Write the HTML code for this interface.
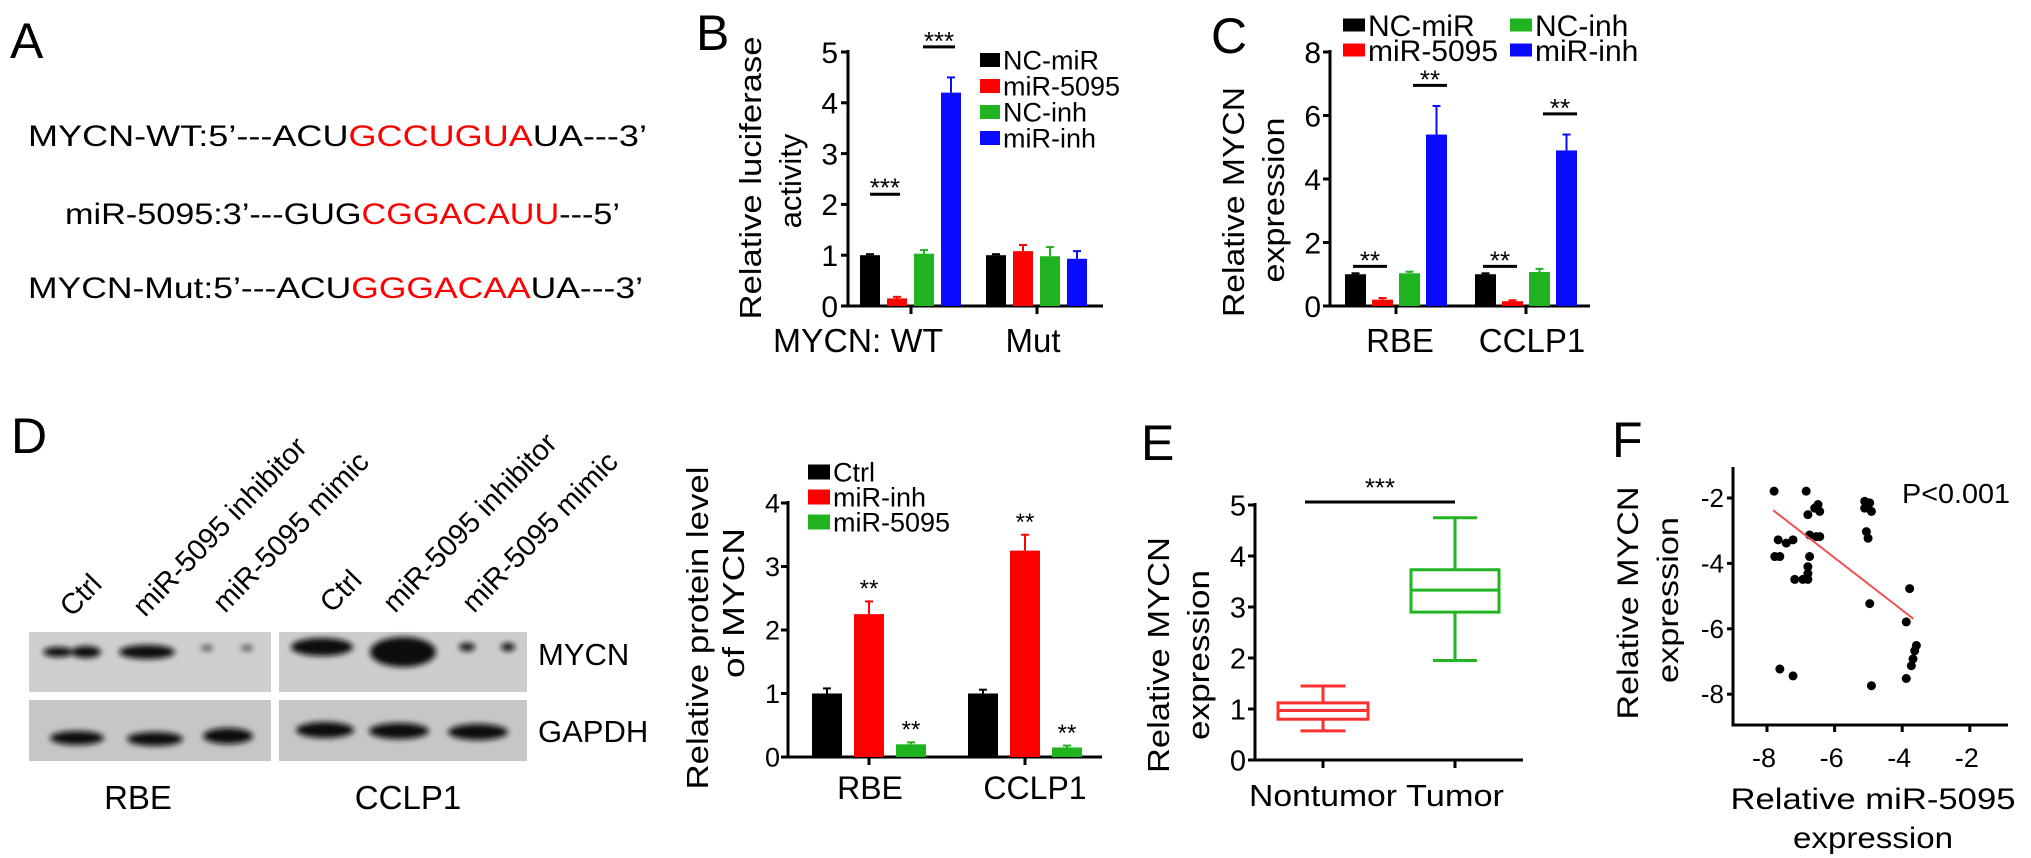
<!DOCTYPE html>
<html><head><meta charset="utf-8"><style>
html,body{margin:0;padding:0;background:#fff;}
svg{display:block;font-family:"Liberation Sans",Arial,sans-serif;}
</style></head><body>
<svg id="fig" width="2031" height="858" viewBox="0 0 2031 858">
<defs><filter id="blur" x="-20%" y="-50%" width="140%" height="200%"><feGaussianBlur stdDeviation="3"/></filter></defs>
<text x="10" y="58" font-size="50">A</text>
<text x="696" y="50" font-size="50">B</text>
<text x="1211" y="53" font-size="50">C</text>
<text x="11" y="453" font-size="50">D</text>
<text x="1141" y="460" font-size="50">E</text>
<text x="1612" y="457" font-size="50">F</text>

<text x="28" y="146" font-size="30" textLength="619" lengthAdjust="spacingAndGlyphs">MYCN-WT:5’---ACU<tspan fill="#ff0000">GCCUGUA</tspan>UA---3’</text>
<text x="65" y="224" font-size="30" textLength="555" lengthAdjust="spacingAndGlyphs">miR-5095:3’---GUG<tspan fill="#ff0000">CGGACAUU</tspan>---5’</text>
<text x="28" y="298" font-size="30" textLength="615" lengthAdjust="spacingAndGlyphs">MYCN-Mut:5’---ACU<tspan fill="#ff0000">GGGACAA</tspan>UA---3’</text>

<text transform="translate(761,178) rotate(-90)" text-anchor="middle" font-size="31" textLength="283" lengthAdjust="spacingAndGlyphs">Relative luciferase</text>
<text transform="translate(801,181) rotate(-90)" text-anchor="middle" font-size="31">activity</text>
<text x="858" y="352" text-anchor="middle" font-size="33" textLength="170" lengthAdjust="spacingAndGlyphs">MYCN: WT</text>
<text x="1033" y="352" text-anchor="middle" font-size="33">Mut</text>

<text transform="translate(1244,202) rotate(-90)" text-anchor="middle" font-size="31" textLength="230" lengthAdjust="spacingAndGlyphs">Relative MYCN</text>
<text transform="translate(1284,200) rotate(-90)" text-anchor="middle" font-size="31" textLength="165" lengthAdjust="spacingAndGlyphs">expression</text>
<text x="1400" y="352" text-anchor="middle" font-size="33">RBE</text>
<text x="1532" y="352" text-anchor="middle" font-size="33">CCLP1</text>

<text transform="translate(708,628) rotate(-90)" text-anchor="middle" font-size="31" textLength="323" lengthAdjust="spacingAndGlyphs">Relative protein level</text>
<text transform="translate(744,603) rotate(-90)" text-anchor="middle" font-size="31" textLength="150" lengthAdjust="spacingAndGlyphs">of  MYCN</text>
<text x="870" y="799" text-anchor="middle" font-size="32">RBE</text>
<text x="1035" y="799" text-anchor="middle" font-size="32">CCLP1</text>

<text transform="translate(1169,655) rotate(-90)" text-anchor="middle" font-size="31" textLength="236" lengthAdjust="spacingAndGlyphs">Relative MYCN</text>
<text transform="translate(1209,655) rotate(-90)" text-anchor="middle" font-size="31" textLength="170" lengthAdjust="spacingAndGlyphs">expression</text>
<text x="1323" y="806" text-anchor="middle" font-size="31" textLength="148" lengthAdjust="spacingAndGlyphs">Nontumor</text>
<text x="1455" y="806" text-anchor="middle" font-size="31" textLength="98" lengthAdjust="spacingAndGlyphs">Tumor</text>

<text transform="translate(1638,603) rotate(-90)" text-anchor="middle" font-size="30" textLength="233" lengthAdjust="spacingAndGlyphs">Relative MYCN</text>
<text transform="translate(1678,600) rotate(-90)" text-anchor="middle" font-size="30" textLength="166" lengthAdjust="spacingAndGlyphs">expression</text>
<text x="1873" y="809" text-anchor="middle" font-size="30" textLength="285" lengthAdjust="spacingAndGlyphs">Relative miR-5095</text>
<text x="1873" y="848" text-anchor="middle" font-size="30" textLength="160" lengthAdjust="spacingAndGlyphs">expression</text>
<text x="1902" y="503" font-size="28" textLength="108" lengthAdjust="spacingAndGlyphs">P&lt;0.001</text>

<g>
<rect x="29" y="632" width="242" height="60" fill="#cfcfcf"/>
<rect x="29" y="700" width="242" height="61" fill="#c6c6c6"/>
<rect x="279" y="632" width="248" height="60" fill="#cdcdcd"/>
<rect x="279" y="700" width="248" height="61" fill="#c6c6c6"/>
<g filter="url(#blur)" fill="#111">
<ellipse cx="58" cy="652" rx="15" ry="5"/><ellipse cx="86" cy="652" rx="15" ry="6"/>
<ellipse cx="147" cy="652" rx="28" ry="7"/>
<ellipse cx="207" cy="648" rx="6" ry="3" fill="#555"/><ellipse cx="247" cy="648" rx="6" ry="3" fill="#555"/>
<ellipse cx="77" cy="738" rx="27" ry="7"/><ellipse cx="155" cy="739" rx="28" ry="7"/><ellipse cx="228" cy="736" rx="25" ry="8"/>
<ellipse cx="322" cy="647" rx="31" ry="9"/>
<ellipse cx="403" cy="652" rx="33" ry="15"/>
<ellipse cx="467" cy="647" rx="8" ry="4"/><ellipse cx="508" cy="647" rx="7" ry="4"/>
<ellipse cx="325" cy="730" rx="29" ry="8"/><ellipse cx="399" cy="731" rx="30" ry="8"/><ellipse cx="478" cy="732" rx="30" ry="8"/>
</g>
<text x="538" y="665" font-size="31">MYCN</text>
<text x="538" y="742" font-size="31">GAPDH</text>
<text x="138" y="809" text-anchor="middle" font-size="33">RBE</text>
<text x="408" y="809" text-anchor="middle" font-size="33">CCLP1</text>
<text transform="translate(72,618) rotate(-46)" font-size="29">Ctrl</text>
<text transform="translate(145,618) rotate(-46)" font-size="29">miR-5095 inhibitor</text>
<text transform="translate(225,614) rotate(-46)" font-size="29">miR-5095 mimic</text>
<text transform="translate(332,614) rotate(-46)" font-size="29">Ctrl</text>
<text transform="translate(395,614) rotate(-46)" font-size="29">miR-5095 inhibitor</text>
<text transform="translate(474,614) rotate(-46)" font-size="29">miR-5095 mimic</text>
</g>
</svg>
<script>
const bCategories = ['WT', 'Mut'];
const bSeries = ['NC-miR', 'miR-5095', 'NC-inh', 'miR-inh'];
const bValuesWT = [1.0, 0.15, 1.03, 4.2];
const bValuesMut = [1.0, 1.08, 0.98, 0.93];
const bErrWT = [0.02, 0.03, 0.07, 0.3];
const bErrMut = [0.02, 0.12, 0.18, 0.15];
const bTicks = [0, 1, 2, 3, 4, 5];
const bSig = ['***', '', '', '***'];

const cCategories = ['RBE', 'CCLP1'];
const cSeries = ['NC-miR', 'miR-5095', 'NC-inh', 'miR-inh'];
const cValuesRBE = [1.0, 0.2, 1.03, 5.4];
const cValuesCCLP1 = [1.0, 0.15, 1.07, 4.9];
const cErrRBE = [0.03, 0.05, 0.05, 0.9];
const cErrCCLP1 = [0.03, 0.03, 0.1, 0.5];
const cTicks = [0, 2, 4, 6, 8];

const dCategories = ['RBE', 'CCLP1'];
const dSeries = ['Ctrl', 'miR-inh', 'miR-5095'];
const dValuesRBE = [1.0, 2.25, 0.2];
const dValuesCCLP1 = [1.0, 3.25, 0.15];
const dErrRBE = [0.08, 0.2, 0.03];
const dErrCCLP1 = [0.06, 0.25, 0.03];
const dTicks = [0, 1, 2, 3, 4];

const eGroups = ['Nontumor', 'Tumor'];
const eMin = [0.57, 1.95];
const eQ1 = [0.8, 2.9];
const eMedian = [0.97, 3.33];
const eQ3 = [1.12, 3.73];
const eMax = [1.45, 4.75];
const eTicks = [0, 1, 2, 3, 4, 5];

const fX = [-7.79,-6.84,-6.79,-6.59,-6.49,-6.44,-6.74,-6.54,-6.44,-7.67,-7.43,-7.23,-7.77,-7.62,-6.74,-6.79,-6.79,-7.18,-6.94,-6.79,-5.11,-4.96,-4.91,-5.11,-5.06,-5.01,-4.96,-4.91,-3.78,-3.88,-3.88,-3.73,-3.68,-3.63,-3.58,-7.62,-7.23];
const fY = [-1.79,-1.79,-2.51,-2.31,-2.2,-2.41,-3.13,-3.18,-3.18,-3.28,-3.38,-3.28,-3.79,-3.79,-3.79,-4.1,-4.31,-4.49,-4.49,-4.49,-2.1,-2.15,-2.41,-2.31,-3.03,-3.23,-5.23,-7.74,-4.77,-5.79,-7.52,-7.13,-6.92,-6.67,-6.51,-7.23,-7.44];
const fSlope = -0.80;
const fIntercept = -8.63;
const fFitRange = [-7.82, -3.67];
const fXTicks = [-8, -6, -4, -2];
const fYTicks = [-8, -6, -4, -2];

const NS = 'http://www.w3.org/2000/svg';
const svg = document.getElementById('fig');
function mk(tag, attrs) {
  const e = document.createElementNS(NS, tag);
  for (const k in attrs) e.setAttribute(k, attrs[k]);
  svg.appendChild(e);
  return e;
}
const COLORS4 = ['#000000', '#ff0000', '#1fb41f', '#0a0aff'];
const COLORS3 = ['#000000', '#ff0000', '#1fb41f'];

function yAxis(prefix, x, yScale, ticks, top, fs, labX) {
  let el = mk('line', {x1: x, x2: x, y1: top, y2: yScale(ticks[0]) + 1.5, stroke: '#000', 'stroke-width': 3});
  
  
  ticks.forEach(t => {
    const tk = mk('line', {x1: x - 7, x2: x, y1: yScale(t), y2: yScale(t), stroke: '#000', 'stroke-width': 3});
    
    
    const lb = mk('text', {x: labX, y: yScale(t) + fs * 0.36, 'text-anchor': 'end', 'font-size': fs});
    lb.textContent = t;
    
    
  });
}
function xAxis(prefix, x1, x2, y, tickXs) {
  const el = mk('line', {x1: x1 - 1.5, x2: x2, y1: y, y2: y, stroke: '#000', 'stroke-width': 3});
  
  
  tickXs.forEach(tx => {
    const tk = mk('line', {x1: tx, x2: tx, y1: y, y2: y + 8, stroke: '#000', 'stroke-width': 3});
    
    
  });
}
function bar(prefix, x, w, yS, v, err, color) {
  const top = yS(v), base = yS(0);
  const eTop = yS(v + err);
  const el = mk('line', {x1: x + w / 2, x2: x + w / 2, y1: top, y2: eTop, stroke: color, 'stroke-width': 2});
  
  
  const cap = mk('line', {x1: x + w / 2 - 4, x2: x + w / 2 + 4, y1: eTop, y2: eTop, stroke: color, 'stroke-width': 2});
  
  
  const r = mk('rect', {x: x, y: top, width: w, height: Math.max(base - top, 1), fill: color});
  
  
}
function stars(prefix, cx, cy, s, fs) {
  const t = mk('text', {x: cx, y: cy + fs * 0.55, 'text-anchor': 'middle', 'font-size': fs});
  t.textContent = s;
  
  
}
function sigLine(prefix, x1, x2, y) {
  const l = mk('line', {x1: x1, x2: x2, y1: y, y2: y, stroke: '#000', 'stroke-width': 3});
  
  
}
function legend(prefix, x, y, w, h, color, label, fs) {
  const r = mk('rect', {x: x, y: y - h / 2, width: w, height: h, fill: color});
  
  
  const t = mk('text', {x: x + w + 3, y: y + fs * 0.36, 'font-size': fs});
  t.textContent = label;
  
  
}

const yB = v => 306 - v * 50.8;
const xB = i => 911 + i * 126;
yAxis('b', 848, yB, bTicks, 50, 30, 838);
xAxis('b', 848, 1103, 306, bCategories.map((c, i) => xB(i)));
[bValuesWT, bValuesMut].forEach((vals, g) => {
  const errs = g === 0 ? bErrWT : bErrMut;
  vals.forEach((v, i) => bar('b', xB(g) - 51 + i * 27, 20, yB, v, errs[i], COLORS4[i]));
});
sigLine('b', xB(0) - 41, xB(0) - 11, yB(Math.max(bValuesWT[0], bValuesWT[1]) + 1.2));
stars('b', xB(0) - 26, yB(Math.max(bValuesWT[0], bValuesWT[1]) + 1.2) - 12, bSig[0], 26);
sigLine('b', xB(0) + 12, xB(0) + 44, yB(bValuesWT[3] + bErrWT[3] + 0.6));
stars('b', xB(0) + 28, yB(bValuesWT[3] + bErrWT[3] + 0.6) - 11, bSig[3], 26);
bSeries.forEach((s, i) => legend('b', 980, 60 + i * 26, 20, 14, COLORS4[i], s, 27));

const yC = v => 306 - v * 31.75;
const xC = i => 1396 + i * 130;
yAxis('c', 1330, yC, cTicks, 50, 30, 1321);
xAxis('c', 1330, 1590, 306, cCategories.map((c, i) => xC(i)));
[cValuesRBE, cValuesCCLP1].forEach((vals, g) => {
  const errs = g === 0 ? cErrRBE : cErrCCLP1;
  vals.forEach((v, i) => bar('c', xC(g) - 51 + i * 27, 21, yC, v, errs[i], COLORS4[i]));
  sigLine('c', xC(g) - 43, xC(g) - 9, yC(1.25));
  stars('c', xC(g) - 26, yC(1.25) - 11, '**', 26);
  sigLine('c', xC(g) + 17, xC(g) + 51, yC(vals[3] + errs[3] + 0.65));
  stars('c', xC(g) + 34, yC(vals[3] + errs[3] + 0.65) - 11, '**', 26);
});
legend('c', 1343, 25, 22, 13, COLORS4[0], cSeries[0], 30);
legend('c', 1343, 50, 22, 13, COLORS4[1], cSeries[1], 30);
legend('c', 1510, 25, 22, 13, COLORS4[2], cSeries[2], 30);
legend('c', 1510, 50, 22, 13, COLORS4[3], cSeries[3], 30);

const yD = v => 757 - v * 63.5;
const xD = i => 869 + i * 156;
yAxis('d', 788, yD, dTicks, 501, 27, 780);
xAxis('d', 788, 1102, 757, dCategories.map((c, i) => xD(i)));
[dValuesRBE, dValuesCCLP1].forEach((vals, g) => {
  const errs = g === 0 ? dErrRBE : dErrCCLP1;
  vals.forEach((v, i) => {
    bar('d', xD(g) - 57 + i * 42, 30, yD, v, errs[i], COLORS3[i]);
    if (i > 0) stars('d', xD(g) - 42 + i * 42, yD(v + errs[i]) - 18, '**', 24);
  });
});
dSeries.forEach((s, i) => legend('d', 808, 472 + i * 25, 22, 15, COLORS3[i], s, 27));

const yE = v => 760 - v * 51;
const xE = i => 1323 + i * 132;
const eColors = ['#ff3030', '#22b422'];
const eBoxW = [90, 88];
const eCapW = [45, 44];
yAxis('e', 1255, yE, eTicks, 503, 29, 1246);
xAxis('e', 1255, 1523, 760, eGroups.map((g, i) => xE(i)));
eGroups.forEach((g, i) => {
  const cx = xE(i), c = eColors[i], hw = eBoxW[i] / 2, cw = eCapW[i] / 2;
  let el = mk('line', {x1: cx, x2: cx, y1: yE(eMax[i]), y2: yE(eQ3[i]), stroke: c, 'stroke-width': 3});
  
  
  el = mk('line', {x1: cx, x2: cx, y1: yE(eQ1[i]), y2: yE(eMin[i]), stroke: c, 'stroke-width': 3});
  
  
  el = mk('line', {x1: cx - cw, x2: cx + cw, y1: yE(eMax[i]), y2: yE(eMax[i]), stroke: c, 'stroke-width': 3});
  
  
  el = mk('line', {x1: cx - cw, x2: cx + cw, y1: yE(eMin[i]), y2: yE(eMin[i]), stroke: c, 'stroke-width': 3});
  
  
  el = mk('rect', {x: cx - hw, y: yE(eQ3[i]), width: hw * 2, height: yE(eQ1[i]) - yE(eQ3[i]), fill: 'none', stroke: c, 'stroke-width': 3});
  
  
  el = mk('line', {x1: cx - hw, x2: cx + hw, y1: yE(eMedian[i]), y2: yE(eMedian[i]), stroke: c, 'stroke-width': 3});
  
  
});
sigLine('e', 1305, 1455, 502);
stars('e', 1380, 482, '***', 26);

const xF = v => 1767 + (v + 8) * 33.8;
const yF = v => 498 - (v + 2) * 32.7;
(function () {
  let el = mk('line', {x1: 1733, x2: 1733, y1: 467, y2: 726.5, stroke: '#000', 'stroke-width': 3});
  
  
  el = mk('line', {x1: 1733, x2: 2008, y1: 725, y2: 725, stroke: '#000', 'stroke-width': 3});
  
  
})();
fYTicks.forEach(t => {
  const tk = mk('line', {x1: 1727, x2: 1733, y1: yF(t), y2: yF(t), stroke: '#000', 'stroke-width': 3});
  
  
  const lb = mk('text', {x: 1724, y: yF(t) + 9, 'text-anchor': 'end', 'font-size': 26});
  lb.textContent = t;
  
  
});
fXTicks.forEach(t => {
  const tk = mk('line', {x1: xF(t), x2: xF(t), y1: 725, y2: 732, stroke: '#000', 'stroke-width': 3});
  
  
  const lb = mk('text', {x: xF(t) - 3, y: 767, 'text-anchor': 'middle', 'font-size': 27});
  lb.textContent = t;
  
  
});
fX.forEach((x, i) => {
  const p = mk('circle', {cx: xF(x), cy: yF(fY[i]), r: 4.5, fill: '#000'});
  
  
});
(function () {
  const l = mk('line', {x1: xF(fFitRange[0]), y1: yF(fSlope * fFitRange[0] + fIntercept), x2: xF(fFitRange[1]), y2: yF(fSlope * fFitRange[1] + fIntercept), stroke: '#f05050', 'stroke-width': 2});
  
  
})();
</script>
</body></html>
